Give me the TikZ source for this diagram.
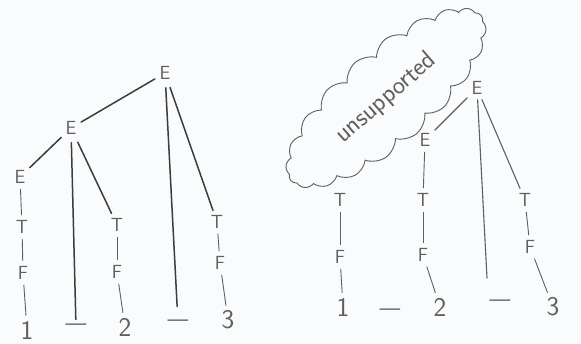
\documentclass[tikz,border=0pt]{standalone}
\usetikzlibrary{shapes.symbols}
\definecolor{pencil}{RGB}{60,60,60}
\definecolor{pencilL}{RGB}{95,95,95}
\definecolor{paper}{RGB}{250,251,252}
\begin{document}
\begin{tikzpicture}[x=1pt,y=-1pt,
  lab/.style={font=\sffamily\fontsize{19}{19}\selectfont, text=pencilL, inner sep=2pt},
  num/.style={font=\sffamily\fontsize{27}{27}\selectfont, text=pencilL, inner sep=2pt},
  dashnode/.style={font=\sffamily\fontsize{22}{22}\selectfont, text=pencilL, inner sep=1pt},
  tick/.style={draw=pencilL, line width=0.9pt, shorten <=3pt, shorten >=3pt},
  branch/.style={draw=pencil, line width=1.5pt, line cap=round, shorten <=3pt, shorten >=3pt},
  branchL/.style={draw=pencilL, line width=1.1pt, line cap=round, shorten <=3pt, shorten >=3pt}]
\fill[paper] (0,0) rectangle (581,344);
\useasboundingbox (0,0) rectangle (581,344);

% ---------- left tree ----------
\node[lab] (tE) at (165,73) {E};
\node[lab] (mE) at (71,128) {E};
\node[lab] (lE) at (20,177) {E};
\node[lab] (T1) at (22,227) {T};
\node[lab] (F1) at (23,273) {F};
\node[num] (one) at (27,330) {1};
\node[dashnode] (m1) at (76,327) {\textemdash};
\node[lab] (T2) at (117,225) {T};
\node[lab] (F2) at (117,272) {F};
\node[num] (two) at (125,327) {2};
\node[dashnode] (m2) at (178,323) {\textemdash};
\node[lab] (T3) at (217,222) {T};
\node[lab] (F3) at (220,263) {F};
\node[num] (three) at (228,320) {3};

\draw[branch] (tE) -- (mE);
\draw[branch] (mE) -- (lE);
\draw[branch, shorten <=6pt] (mE) -- (m1);
\draw[branch, shorten <=6pt] (mE) -- (T2);
\draw[branch, shorten <=6pt, shorten >=12pt] (tE) -- (m2);
\draw[branch, shorten <=6pt] (tE) -- (T3);
\draw[tick] (lE) -- (T1);
\draw[tick] (T1) -- (F1);
\draw[tick] (F1) -- (one);
\draw[tick] (T2) -- (F2);
\draw[tick] (F2) -- (two);
\draw[tick] (T3) -- (F3);
\draw[tick] (F3) -- (three);

% ---------- right tree ----------
\node[draw=pencilL, line width=0.9pt, cloud, cloud puffs=20, cloud puff arc=110,
      cloud ignores aspect, minimum width=252pt, minimum height=94pt, rotate=41,
      font=\sffamily\fontsize{26}{26}\selectfont, text=pencilL]
      (cloud) at (386,98) {unsupported};

\node[lab] (rE) at (477,88) {E};
\node[lab] (cE) at (425,140) {E};
\node[lab] (TA) at (340,200) {T};
\node[lab] (FA) at (340,257) {F};
\node[num] (oneR) at (343,307) {1};
\node[dashnode] (mR1) at (390,312) {\textemdash};
\node[lab] (TB) at (423,200) {T};
\node[lab] (FB) at (423,255) {F};
\node[num] (twoR) at (440,307) {2};
\node[dashnode] (mR2) at (500,303) {\textemdash};
\node[lab] (TC) at (525,200) {T};
\node[lab] (FC) at (530,247) {F};
\node[num] (threeR) at (553,307) {3};
\coordinate (rEend) at (487,278);

\draw[branchL] (rE) -- (cE);
\draw[branchL, shorten >=0pt] (rE) -- (rEend);
\draw[branchL] (rE) -- (TC);
\draw[tick] (TA) -- (FA);
\draw[tick] (FA) -- (oneR);
\draw[tick] (cE) -- (TB);
\draw[tick] (TB) -- (FB);
\draw[tick] (FB) -- (twoR);
\draw[tick] (TC) -- (FC);
\draw[tick] (FC) -- (threeR);
\end{tikzpicture}
\end{document}
